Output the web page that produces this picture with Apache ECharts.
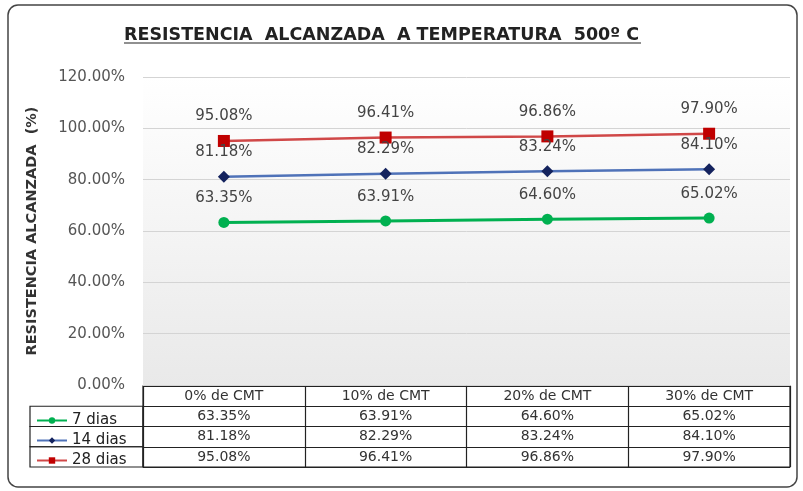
<!DOCTYPE html>
<html><head><meta charset="utf-8">
<script src="https://cdn.jsdelivr.net/npm/echarts@6/dist/echarts.min.js"></script>
<style>html,body{margin:0;padding:0;background:#fff}#c{width:803px;height:491px}</style>
</head><body><div id="c"></div>
<script>
const categories = ['0% de CMT', '10% de CMT', '20% de CMT', '30% de CMT'];
const seriesNames = ['7 dias', '14 dias', '28 dias'];
const dias7  = [63.35, 63.91, 64.60, 65.02];
const dias14 = [81.18, 82.29, 83.24, 84.10];
const dias28 = [95.08, 96.41, 96.86, 97.90];
const yTicks = { min: 0, max: 120, interval: 20 };
const allValues = [dias7, dias14, dias28];

const FONT = '"DejaVu Sans", "Liberation Sans", Arial, sans-serif';
const pct = v => v.toFixed(2) + '%';
const rowNames = ['hdr'].concat(seriesNames);

const tableData = [];
categories.forEach((c, i) => tableData.push([i, 0, c]));
allValues.forEach((arr, r) => arr.forEach((v, i) => tableData.push([i, r + 1, pct(v)])));
const labelCells = seriesNames.map((n, r) => [0, r + 1, '']);

const styles = [
  { line: '#00b050', mark: '#00b050', symbol: 'circle', size: 11, w: 3 },
  { line: '#4f72b8', mark: '#14235e', symbol: 'diamond', size: 12, w: 2.5 },
  { line: '#d04848', mark: '#c00000', symbol: 'rect', size: 12, w: 2.5 }
];

const lineSeries = allValues.map((arr, k) => ({
  name: seriesNames[k], type: 'line', xAxisIndex: 0, yAxisIndex: 0,
  data: arr, symbol: styles[k].symbol, symbolSize: styles[k].size,
  lineStyle: { color: styles[k].line, width: styles[k].w },
  itemStyle: { color: styles[k].mark },
  label: { show: true, position: 'top', distance: 11, formatter: p => pct(p.value),
           color: '#444', fontFamily: FONT, fontSize: 15 },
  z: 3
}));

const chart = echarts.init(document.getElementById('c'), null, { renderer: 'canvas' });
chart.setOption({
  backgroundColor: '#ffffff',
  animation: false,
  title: {
    text: 'RESISTENCIA  ALCANZADA  A TEMPERATURA  500º C',
    left: 119, top: 21,
    textStyle: { fontFamily: FONT, fontWeight: 'bold', fontSize: 17.5, color: '#222' }
  },
  legend: {
    orient: 'vertical', left: 31, top: 408,
    itemWidth: 30, itemHeight: 8, itemGap: 5,
    data: seriesNames,
    textStyle: { fontFamily: FONT, fontSize: 15, color: '#222' },
    selectedMode: false
  },
  grid: [
    { left: 143, right: 13, top: 77, bottom: 106, show: true, borderWidth: 0,
      backgroundColor: { type: 'linear', x: 0, y: 0, x2: 0, y2: 1,
        colorStops: [{ offset: 0, color: '#ffffff' }, { offset: 1, color: '#e9e9e9' }] } },
    { left: 143, right: 13, top: 386, height: 81, show: true, borderWidth: 1.2, borderColor: '#222', backgroundColor: '#fff' }
  ],
  xAxis: [
    { type: 'category', gridIndex: 0, data: categories, boundaryGap: true,
      axisLine: { show: false }, axisTick: { show: false }, axisLabel: { show: false } },
    { type: 'category', gridIndex: 1, data: categories, boundaryGap: true,
      axisLine: { show: false }, axisTick: { show: false }, axisLabel: { show: false },
      splitLine: { show: true, lineStyle: { color: '#222', width: 1.2 } } }
  ],
  yAxis: [
    { type: 'value', gridIndex: 0, min: yTicks.min, max: yTicks.max, interval: yTicks.interval,
      name: 'RESISTENCIA ALCANZADA  (%)', nameLocation: 'middle', nameGap: 103, nameRotate: 90,
      nameTextStyle: { fontFamily: FONT, fontWeight: 'bold', fontSize: 14.5, color: '#333' },
      axisLine: { show: false }, axisTick: { show: false },
      axisLabel: { formatter: v => pct(v), fontFamily: FONT, fontSize: 15, color: '#555', margin: 18 },
      splitLine: { lineStyle: { color: '#d4d4d4', width: 1 } } },
    { type: 'category', gridIndex: 1, data: rowNames, inverse: true,
      axisLine: { show: false }, axisTick: { show: false }, axisLabel: { show: false },
      splitLine: { show: true, lineStyle: { color: '#222', width: 1.2 } } }
  ],
  series: lineSeries.concat([
    {
      type: 'custom', xAxisIndex: 1, yAxisIndex: 1, data: tableData, silent: true,
      renderItem: (params, api) => {
        const p = api.coord([api.value(0), api.value(1)]);
        return { type: 'text', x: p[0], y: p[1],
          style: { text: tableData[params.dataIndex][2], align: 'center', verticalAlign: 'middle',
                   fontFamily: FONT, fontSize: 14, fill: '#333' } };
      }
    },
    {
      type: 'custom', xAxisIndex: 1, yAxisIndex: 1, data: labelCells, silent: true, clip: false,
      renderItem: (params, api) => {
        const p = api.coord([api.value(0), api.value(1)]);
        const s = api.size([1, 1]);
        const colW = 113;
        return { type: 'rect',
          shape: { x: p[0] - s[0] / 2 - colW, y: p[1] - s[1] / 2, width: colW, height: s[1] },
          style: { fill: 'none', stroke: '#222', lineWidth: 1.2 }, z2: 0 };
      }
    }
  ]),
  graphic: [
    { type: 'rect', shape: { x: 8, y: 5, width: 789, height: 482, r: 10 },
      style: { fill: 'none', stroke: '#444', lineWidth: 1.5 }, z: 0 },
    { type: 'line', shape: { x1: 124, y1: 43, x2: 641, y2: 43 },
      style: { stroke: '#222', lineWidth: 1.2 } }
  ]
});
</script>
</body></html>
